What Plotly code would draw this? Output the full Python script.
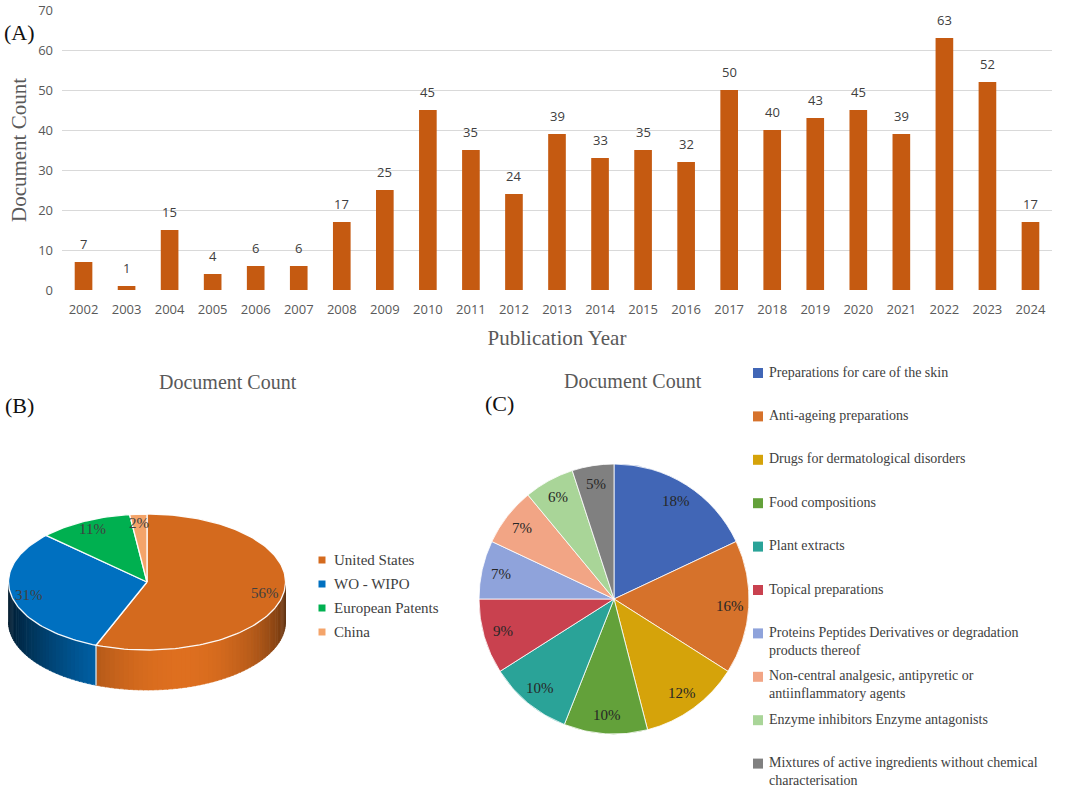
import numpy as np
import plotly.graph_objects as go

W, H = 1065, 793

# ---------------- data ----------------
years = ["2002", "2003", "2004", "2005", "2006", "2007", "2008", "2009", "2010", "2011", "2012",
         "2013", "2014", "2015", "2016", "2017", "2018", "2019", "2020", "2021", "2022", "2023", "2024"]
counts = [7, 1, 15, 4, 6, 6, 17, 25, 45, 35, 24, 39, 33, 35, 32, 50, 40, 43, 45, 39, 63, 52, 17]

office_labels = ["United States", "WO - WIPO", "European Patents", "China"]
office_share = [56, 31, 11, 2]
office_colors = ["#D46A1E", "#0070C0", "#00B050", "#F4A46A"]

cpc_labels = [
    "Preparations for care of the skin",
    "Anti-ageing preparations",
    "Drugs for dermatological disorders",
    "Food compositions",
    "Plant extracts",
    "Topical preparations",
    "Proteins Peptides Derivatives or degradation<br>products thereof",
    "Non-central analgesic, antipyretic or<br>antiinflammatory agents",
    "Enzyme inhibitors Enzyme antagonists",
    "Mixtures of active ingredients without chemical<br>characterisation",
]
cpc_share = [18, 16, 12, 10, 10, 9, 7, 7, 6, 5]
cpc_colors = ["#4166B6", "#D6722B", "#D5A30A", "#63A13A", "#2AA398",
              "#C9414F", "#8FA3DB", "#F2A585", "#A9D598", "#808080"]

SERIF = "Liberation Serif, Times New Roman, serif"
SANS = "Open Sans, Noto Sans, sans-serif"
GRAY = "#595959"
DARK = "#404040"

fig = go.Figure()
annotations = []

# ---------------- (A) bar chart ----------------
fig.add_trace(go.Bar(
    x=years, y=counts, width=0.41,
    marker=dict(color="#C55A11", line=dict(width=0)),
    hoverinfo="skip", showlegend=False, xaxis="x", yaxis="y",
))
for i, c in enumerate(counts):
    annotations.append(dict(
        x=i, y=c, xref="x", yref="y", text=str(c), showarrow=False,
        yanchor="bottom", yshift=7, font=dict(family=SANS, size=13, color=DARK)))

# ---------------- (B) 3-D style pie on a pixel canvas ----------------
cx, cy, rx, ry, depth = 147.0, 582.0, 138.5, 68.0, 40.0


def ell(theta_deg, dy=0.0):
    t = np.radians(theta_deg)
    return cx + rx * np.cos(t), cy - ry * np.sin(t) + dy


def hex2rgb(h):
    h = h.lstrip("#")
    return np.array([int(h[i:i + 2], 16) for i in (0, 2, 4)], dtype=float)


cum = np.concatenate([[0], np.cumsum(office_share)]) / float(sum(office_share))
angles = 90.0 - 360.0 * cum  # clockwise from 12 o'clock

# side wall (front half only: -180..0 deg)
for k in range(len(office_share)):
    a0, a1 = angles[k], angles[k + 1]
    lo, hi = max(a1, -180.0), min(a0, 0.0)
    if hi <= lo:
        continue
    n = int(np.ceil((hi - lo) / 2.0))
    edges = np.linspace(lo, hi, n + 1)
    base = hex2rgb(office_colors[k])
    for i in range(n):
        t0, t1 = edges[i], min(edges[i + 1] + 0.4, hi)
        mid = 0.5 * (edges[i] + edges[i + 1])
        d = np.radians(mid + 76.0)
        f = 0.15 + 0.9 * ((1 + np.cos(d)) / 2.0) ** 2.5
        c = np.clip(base * f, 0, 255).astype(int)
        col = "rgb(%d,%d,%d)" % tuple(c)
        ts = np.linspace(t0, t1, 4)
        xt, yt = ell(ts)
        xb, yb = ell(ts[::-1], depth)
        fig.add_trace(go.Scatter(
            x=np.concatenate([xt, xb]), y=np.concatenate([yt, yb]),
            fill="toself", fillcolor=col, mode="lines",
            line=dict(color=col, width=0.6),
            hoverinfo="skip", showlegend=False, xaxis="x2", yaxis="y2",
        ))

# white edge lines on the wall at slice boundaries
for a in angles[1:-1]:
    if -180.0 < a < 0.0:
        xa, ya = ell(a)
        xb, yb = ell(a, depth)
        fig.add_trace(go.Scatter(
            x=[xa, xb], y=[ya, yb], mode="lines",
            line=dict(color="rgba(255,255,255,0.9)", width=1.2),
            hoverinfo="skip", showlegend=False, xaxis="x2", yaxis="y2",
        ))

# top faces
for k in range(len(office_share)):
    a0, a1 = angles[k], angles[k + 1]
    ts = np.linspace(a0, a1, max(3, int(abs(a0 - a1) / 1.5)))
    xs, ys = ell(ts)
    fig.add_trace(go.Scatter(
        x=np.concatenate([[cx], xs, [cx]]), y=np.concatenate([[cy], ys, [cy]]),
        fill="toself", fillcolor=office_colors[k], mode="lines",
        line=dict(color="rgba(255,255,255,0.95)", width=1.3),
        hoverinfo="skip", showlegend=False, xaxis="x2", yaxis="y2",
    ))

# B percentage labels
for k in range(len(office_share)):
    mid = 0.5 * (angles[k] + angles[k + 1])
    t = np.radians(mid)
    lx = cx + 0.87 * rx * np.cos(t)
    ly = cy - 0.87 * ry * np.sin(t)
    annotations.append(dict(
        x=lx, y=ly, xref="x2", yref="y2", text="%d%%" % office_share[k],
        showarrow=False, font=dict(family=SERIF, size=15, color=DARK)))

# B legend
legB_x, legB_y0, legB_dy = 322, 560, 24
fig.add_trace(go.Scatter(
    x=[legB_x] * len(office_labels),
    y=[legB_y0 + i * legB_dy for i in range(len(office_labels))],
    mode="markers", marker=dict(symbol="square", size=7, color=office_colors),
    hoverinfo="skip", showlegend=False, xaxis="x2", yaxis="y2",
))
for i, lab in enumerate(office_labels):
    annotations.append(dict(
        x=legB_x + 10, y=legB_y0 + i * legB_dy, xref="x2", yref="y2", text=lab,
        xanchor="left", yanchor="middle", showarrow=False,
        font=dict(family=SERIF, size=15, color=DARK)))

# ---------------- (C) pie ----------------
pcx, pcy, pr = 614.0, 599.0, 135.0
fig.add_trace(go.Pie(
    values=cpc_share, labels=[l.replace("<br>", " ") for l in cpc_labels],
    marker=dict(colors=cpc_colors, line=dict(color="rgba(255,255,255,0.8)", width=1)),
    sort=False, direction="clockwise", rotation=0, textinfo="none",
    hoverinfo="skip", showlegend=False,
    domain=dict(x=[(pcx - pr) / W, (pcx + pr) / W], y=[1 - (pcy + pr) / H, 1 - (pcy - pr) / H]),
))
ccum = np.concatenate([[0], np.cumsum(cpc_share)]) / float(sum(cpc_share))
for k in range(len(cpc_share)):
    phi = np.radians(360.0 * 0.5 * (ccum[k] + ccum[k + 1]))
    annotations.append(dict(
        x=pcx + 0.86 * pr * np.sin(phi), y=pcy - 0.86 * pr * np.cos(phi),
        xref="x2", yref="y2", text="%d%%" % cpc_share[k], showarrow=False,
        font=dict(family=SERIF, size=15, color="#262626")))

# C legend
legC_x, legC_y0, legC_dy = 758, 373, 43.4
fig.add_trace(go.Scatter(
    x=[legC_x] * len(cpc_labels),
    y=[legC_y0 + i * legC_dy for i in range(len(cpc_labels))],
    mode="markers", marker=dict(symbol="square", size=10, color=cpc_colors),
    hoverinfo="skip", showlegend=False, xaxis="x2", yaxis="y2",
))
for i, lab in enumerate(cpc_labels):
    annotations.append(dict(
        x=legC_x + 9, y=legC_y0 + i * legC_dy - 10.5, xref="x2", yref="y2", text=lab,
        xanchor="left", yanchor="top", align="left", showarrow=False,
        font=dict(family=SERIF, size=14, color=DARK)))

# titles and panel letters
for txt, x, y in [("Document Count", 228, 382), ("Document Count", 633, 381)]:
    annotations.append(dict(x=x, y=y, xref="x2", yref="y2", text=txt, showarrow=False,
                            font=dict(family=SERIF, size=20, color=GRAY)))
for txt, x, y in [("(A)", 19, 32), ("(B)", 19, 405), ("(C)", 499, 403)]:
    annotations.append(dict(x=x, y=y, xref="x2", yref="y2", text=txt, showarrow=False,
                            font=dict(family=SERIF, size=22, color="#111111")))

fig.update_layout(
    width=W, height=H, margin=dict(l=0, r=0, t=0, b=0, autoexpand=False),
    paper_bgcolor="white", plot_bgcolor="rgba(0,0,0,0)",
    showlegend=False, bargap=0.59,
    xaxis=dict(domain=[62 / W, 1052 / W], type="category", range=[-0.5, len(years) - 0.5],
               showgrid=False, showline=False,
               zeroline=False, ticks="", ticklabelstandoff=10, automargin=False,
               tickfont=dict(family=SANS, size=13, color=GRAY),
               title=dict(text="Publication Year", standoff=13,
                          font=dict(family=SERIF, size=21, color=GRAY)),
               anchor="y", fixedrange=True),
    yaxis=dict(domain=[1 - 290 / H, 1 - 10 / H], range=[0, 70], dtick=10,
               showgrid=True, gridcolor="#D9D9D9", gridwidth=1, zeroline=False, showline=False,
               ticks="", ticklabelstandoff=8, automargin=False,
               tickfont=dict(family=SANS, size=13, color=GRAY),
               title=dict(text="Document Count", standoff=5,
                          font=dict(family=SERIF, size=21, color=GRAY)),
               anchor="x", fixedrange=True),
    xaxis2=dict(domain=[0, 1], range=[0, W], visible=False, anchor="y2",
                fixedrange=True, automargin=False),
    yaxis2=dict(domain=[0, 1], range=[H, 0], visible=False, anchor="x2",
                fixedrange=True, automargin=False),
    annotations=annotations,
)

fig.write_html("out.html", config={"displayModeBar": False},
               post_script="document.body.style.margin='0px';")
